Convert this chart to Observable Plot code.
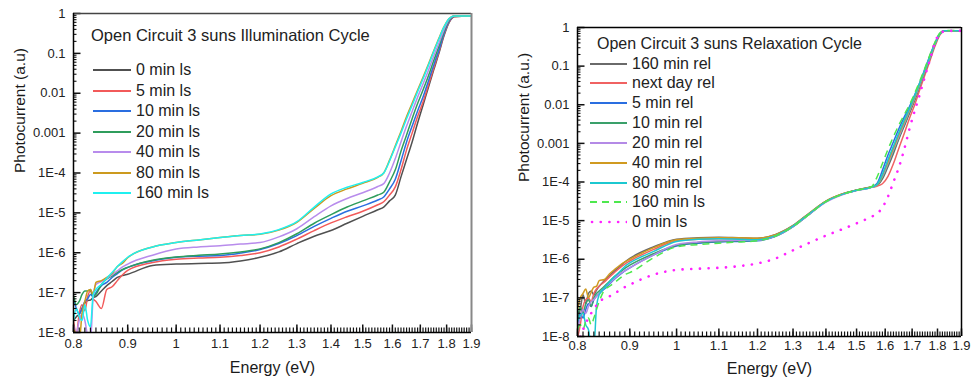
<!DOCTYPE html>
<html><head><meta charset="utf-8">
<script src="https://cdn.jsdelivr.net/npm/d3@7"></script>
<script src="https://cdn.jsdelivr.net/npm/@observablehq/plot@0.6"></script>
<style>
body{margin:0;background:#fff;font-family:"Liberation Sans",Arial,sans-serif;color:#222;}
#wrap{position:relative;width:971px;height:385px;overflow:hidden;background:#fff;}
.panel{position:absolute;top:0;height:385px;}
.panel svg{position:absolute;left:0;top:0;}
.ltitle{position:absolute;white-space:nowrap;line-height:20px;height:20px;}
.lrow{position:absolute;white-space:nowrap;height:20px;line-height:20px;font-size:16px;display:flex;align-items:center;}
.lrow svg{display:block;position:static;}
</style></head>
<body><div id="wrap"></div>
<script>
// ---------- data ----------
const energy = [0.800,0.805,0.810,0.815,0.820,0.825,0.830,0.835,0.840,0.850,0.860,0.870,0.880,0.890,
  0.90,0.95,1.00,1.05,1.10,1.15,1.20,1.25,1.30,1.35,1.40,1.45,1.50,1.55,
  1.57,1.59,1.61,1.63,1.65,1.67,1.69,1.71,1.73,1.75,1.77,1.79,1.81,1.83,1.86,1.90];

// Left panel: illumination cycle
const ill0 = [2e-8,2.5e-8,2.9e-8,4e-8,5.5e-8,6.3e-8,6.5e-8,7.6e-8,8e-8,1.1e-7,1.5e-7,1.9e-7,2.4e-7,2.7e-7,
  2.9e-7,4.8e-7,5.2e-7,5.4e-7,5.5e-7,6.2e-7,7.7e-7,1.05e-6,1.7e-6,2.6e-6,3.6e-6,5.5e-6,8.2e-6,1.2e-5,
  1.4e-5,2e-5,2.8e-5,8e-5,2.2e-4,6e-4,1.8e-3,5e-3,1.4e-2,3.8e-2,0.1,0.28,0.6,0.83,0.85,0.85];
const ill5 = [2e-8,9e-9,3e-8,5e-8,3.5e-8,8e-8,1.1e-7,7e-8,6e-8,4e-8,1.2e-7,1.4e-7,2e-7,2.8e-7,
  3.6e-7,5.7e-7,6.9e-7,7.4e-7,7.7e-7,8.5e-7,1.0e-6,1.4e-6,2.2e-6,3.6e-6,5.6e-6,8e-6,1.1e-5,1.6e-5,
  1.9e-5,2.8e-5,4.5e-5,1.2e-4,3.8e-4,1e-3,2.6e-3,6e-3,1.6e-2,4.2e-2,0.11,0.3,0.62,0.84,0.85,0.85];
const ill10 = [7e-8,4e-8,2.9e-8,4e-8,6e-8,7e-8,9e-8,8e-8,1e-7,1.5e-7,1.8e-7,2.4e-7,3e-7,3.7e-7,
  4.3e-7,6.3e-7,7.7e-7,8.2e-7,8.5e-7,9.8e-7,1.2e-6,1.7e-6,2.7e-6,4.6e-6,7.3e-6,1.1e-5,1.5e-5,2.1e-5,
  2.5e-5,4e-5,7e-5,2e-4,6e-4,1.5e-3,3.6e-3,8e-3,2e-2,5e-2,0.12,0.32,0.64,0.85,0.86,0.86];
const ill20 = [8.5e-8,5e-8,6e-8,9e-8,1.1e-7,1.1e-7,1.2e-7,8e-8,9e-8,1.6e-7,2.2e-7,2.6e-7,3.2e-7,3.8e-7,
  4.3e-7,6.5e-7,7.8e-7,8.6e-7,9.3e-7,1.05e-6,1.25e-6,1.8e-6,3e-6,5.5e-6,9e-6,1.4e-5,2e-5,2.8e-5,
  3.3e-5,6e-5,1.2e-4,3.5e-4,9e-4,2.3e-3,5.5e-3,1.2e-2,2.7e-2,6.5e-2,0.15,0.36,0.68,0.86,0.86,0.86];
const ill40 = [1.5e-8,1e-8,2e-8,3e-8,2e-8,8e-9,6e-9,8e-8,1.6e-7,1.9e-7,2.3e-7,2.8e-7,3.5e-7,4.4e-7,
  5.2e-7,8.7e-7,1.24e-6,1.4e-6,1.5e-6,1.65e-6,1.8e-6,2.5e-6,4e-6,8e-6,1.5e-5,2.3e-5,3.2e-5,4.6e-5,
  5.4e-5,1e-4,2.3e-4,6e-4,1.5e-3,3.5e-3,8e-3,1.7e-2,3.7e-2,8.5e-2,0.18,0.4,0.72,0.86,0.86,0.86];
const ill80 = [1.2e-8,9e-9,6e-9,3e-8,6e-8,1.1e-7,1.2e-7,9e-8,1.8e-7,2e-7,2.4e-7,3e-7,4.5e-7,5.5e-7,
  7.5e-7,1.4e-6,1.8e-6,2.1e-6,2.4e-6,2.7e-6,2.9e-6,3.7e-6,5.8e-6,1.3e-5,2.7e-5,4e-5,5.5e-5,7.8e-5,
  1e-4,2.1e-4,4.8e-4,1.1e-3,2.6e-3,5.6e-3,1.2e-2,2.5e-2,5.3e-2,0.115,0.24,0.47,0.75,0.87,0.87,0.87];
const ill160 = [2e-8,4e-8,2.5e-8,2e-8,5e-8,2e-8,1.4e-8,9e-8,1.2e-7,1.6e-7,2.3e-7,3.2e-7,4.5e-7,6e-7,
  7.7e-7,1.4e-6,1.8e-6,2.1e-6,2.4e-6,2.7e-6,2.95e-6,3.8e-6,6e-6,1.4e-5,3e-5,4.4e-5,5.8e-5,8e-5,
  1e-4,2e-4,4.5e-4,1e-3,2.3e-3,5e-3,1.1e-2,2.3e-2,5e-2,0.11,0.23,0.46,0.75,0.87,0.87,0.87];

// Right panel: relaxation cycle
const rel160 = [3e-8,5e-8,1.2e-7,7e-8,1.3e-7,1.5e-7,1.2e-7,1.6e-7,2e-7,2.8e-7,3.8e-7,5e-7,6.5e-7,8.5e-7,
  1.05e-6,2.1e-6,3.3e-6,3.6e-6,3.7e-6,3.6e-6,3.5e-6,4.4e-6,7.5e-6,1.6e-5,3.2e-5,4.8e-5,6.2e-5,7.4e-5,
  8e-5,1.2e-4,2.5e-4,5.5e-4,1.3e-3,2.8e-3,6e-3,1.3e-2,3e-2,7e-2,0.16,0.38,0.68,0.82,0.83,0.83];
const relNext = [9e-9,2e-8,6e-8,9e-8,1e-7,8e-8,1.3e-7,1.7e-7,2e-7,2.6e-7,3.5e-7,4.6e-7,6e-7,7.5e-7,
  9e-7,1.8e-6,3.0e-6,3.3e-6,3.4e-6,3.4e-6,3.3e-6,4.2e-6,7.2e-6,1.55e-5,3.1e-5,4.7e-5,6.1e-5,7.3e-5,
  7.8e-5,9e-5,1.4e-4,3e-4,7.5e-4,1.8e-3,4.5e-3,1e-2,2.5e-2,6e-2,0.14,0.33,0.65,0.82,0.83,0.83];
const rel5 = [2e-8,4e-8,3e-8,5e-8,7e-8,6e-8,9e-8,1.1e-7,1.3e-7,1.7e-7,2.3e-7,3.1e-7,4e-7,5e-7,
  6e-7,1.3e-6,2.2e-6,2.6e-6,2.8e-6,2.9e-6,3.0e-6,3.9e-6,7e-6,1.5e-5,3.1e-5,4.7e-5,6.1e-5,7.3e-5,
  9e-5,2e-4,5e-4,1.1e-3,2.4e-3,4.8e-3,9e-3,1.8e-2,3.8e-2,8.5e-2,0.19,0.4,0.7,0.83,0.83,0.83];
const rel10 = [3e-8,6e-8,4e-8,7e-8,9e-8,6e-8,1e-7,1.3e-7,1.5e-7,2e-7,2.7e-7,3.6e-7,4.6e-7,5.8e-7,
  7e-7,1.4e-6,2.3e-6,2.7e-6,2.9e-6,3.0e-6,3.1e-6,4e-6,7e-6,1.5e-5,3.1e-5,4.7e-5,6.1e-5,7.3e-5,
  8.2e-5,1.3e-4,2.8e-4,6.2e-4,1.4e-3,3e-3,6.5e-3,1.4e-2,3.2e-2,7.2e-2,0.16,0.37,0.68,0.82,0.83,0.83];
const rel20 = [1.5e-8,3e-8,5e-8,4e-8,6e-8,8e-8,9e-8,1.1e-7,1.3e-7,1.8e-7,2.4e-7,3.2e-7,4.1e-7,5e-7,
  6e-7,1.3e-6,2.4e-6,2.8e-6,3.0e-6,3.1e-6,3.1e-6,4e-6,7e-6,1.5e-5,3e-5,4.6e-5,6e-5,7.2e-5,
  8.2e-5,1.4e-4,3e-4,6.8e-4,1.5e-3,3.3e-3,7e-3,1.5e-2,3.4e-2,7.6e-2,0.17,0.38,0.69,0.82,0.83,0.83];
const rel40 = [5e-8,1e-7,1.3e-7,1.7e-7,1e-7,1.4e-7,1.9e-7,2e-7,2.8e-7,3e-7,4.2e-7,5.5e-7,7e-7,8.5e-7,
  1e-6,2e-6,3.2e-6,3.5e-6,3.6e-6,3.6e-6,3.5e-6,4.3e-6,7.4e-6,1.6e-5,3.2e-5,4.8e-5,6.2e-5,7.4e-5,
  8.3e-5,1.5e-4,3.3e-4,7.5e-4,1.7e-3,3.6e-3,7.5e-3,1.6e-2,3.6e-2,8e-2,0.18,0.39,0.7,0.82,0.83,0.83];
const rel80 = [2.5e-8,3.5e-8,4e-8,2e-8,1.5e-8,6e-9,5e-9,6e-8,1.2e-7,1.8e-7,2.6e-7,3.6e-7,4.8e-7,6.5e-7,
  8e-7,1.6e-6,2.9e-6,3.3e-6,3.4e-6,3.3e-6,3.2e-6,4.1e-6,7.2e-6,1.55e-5,3.1e-5,4.7e-5,6.1e-5,7.3e-5,
  8.5e-5,1.6e-4,3.8e-4,8.5e-4,1.9e-3,4e-3,8e-3,1.7e-2,3.7e-2,8.2e-2,0.18,0.39,0.7,0.83,0.83,0.83];
const ls160 = [1.5e-8,2e-8,1.5e-8,2.5e-8,3e-8,2e-8,3e-8,5e-8,8e-8,1.6e-7,2e-7,2.5e-7,3.2e-7,4e-7,
  4.5e-7,1.1e-6,2.1e-6,2.4e-6,2.6e-6,2.8e-6,3.0e-6,4e-6,7e-6,1.5e-5,3.1e-5,4.7e-5,6.1e-5,7.4e-5,
  1.3e-4,3e-4,7e-4,1.5e-3,3e-3,5.5e-3,1e-2,2e-2,4.2e-2,9e-2,0.2,0.42,0.72,0.83,0.84,0.84];
const ls0 = [6e-9,1e-8,1.5e-8,2.2e-8,3e-8,4e-8,5e-8,6.5e-8,8e-8,9.5e-8,1.1e-7,1.3e-7,1.6e-7,1.9e-7,
  2.2e-7,4e-7,5.3e-7,5.7e-7,6e-7,6.6e-7,7.8e-7,1.05e-6,1.7e-6,2.7e-6,4.1e-6,5.9e-6,8.5e-6,1.25e-5,
  1.5e-5,2.2e-5,4.2e-5,1e-4,2.4e-4,7e-4,2.4e-3,7e-3,1.9e-2,5.5e-2,0.15,0.42,0.7,0.8,0.82,0.82];

const xTicks = [0.8,0.9,1,1.1,1.2,1.3,1.4,1.5,1.6,1.7,1.8,1.9];
const xTickLabels = ["0.8","0.9","1","1.1","1.2","1.3","1.4","1.5","1.6","1.7","1.8","1.9"];
const yTicks = [1,0.1,0.01,0.001,1e-4,1e-5,1e-6,1e-7,1e-8];
const yTickLabels = ["1","0.1","0.01","0.001","1E-4","1E-5","1E-6","1E-7","1E-8"];

const leftNames = ["0 min ls","5 min ls","10 min ls","20 min ls","40 min ls","80 min ls","160 min ls"];
const leftValues = [ill0, ill5, ill10, ill20, ill40, ill80, ill160];
const leftColors = ["#505050","#f25a5a","#2a6ee0","#2f9d5c","#b88cec","#cc9a1e","#1ff0f0"];

const rightNames = ["160 min rel","next day rel","5 min rel","10 min rel","20 min rel","40 min rel","80 min rel","160 min ls","0 min ls"];
const rightValues = [rel160, relNext, rel5, rel10, rel20, rel40, rel80, ls160, ls0];
const rightColors = ["#6a6a6a","#f06262","#2a6ee0","#3aa06a","#b48ae6","#d09a20","#1cc8d0","#4de84d","#ff22ff"];
const rightDash = [null,null,null,null,null,null,null,"7,5","0.1,8.6"];

// ---------- helpers ----------
const X0 = 0.8, X1 = 1.9, Y0 = 1e-8, Y1 = 1;
const xMinor = d3.range(80, 191).map(i => i / 100);
const yMinor = [];
for (let k = -8; k < 0; k++) for (let m = 2; m <= 9; m++) yMinor.push(m * Math.pow(10, k));

const plotStyle = {fontFamily: "'Liberation Sans', Arial, sans-serif", fontSize: "13px", color: "#222", background: "transparent", overflow: "visible"};

function baseOpts(o, marks) {
  return {
    width: o.width, height: o.height,
    marginLeft: o.ml, marginRight: o.mr, marginTop: o.mt, marginBottom: o.mb,
    style: plotStyle,
    x: {type: "log", domain: [X0, X1], axis: null},
    y: {type: "log", domain: [Y0, Y1], axis: null},
    marks
  };
}

// main layer: curves and texts
function panel(o) {
  const marks = [];
  o.values.forEach((vals, s) => {
    const data = energy.map((E, i) => ({E, v: vals[i]}));
    const dash = o.dash ? o.dash[s] : null;
    const dotted = dash && dash.startsWith("0.1");
    marks.push(Plot.line(data, {
      x: "E", y: "v", stroke: o.colors[s], strokeWidth: dotted ? 2.6 : 1.5,
      strokeDasharray: dash, strokeLinecap: dotted ? "round" : "butt",
      curve: "monotone-x", clip: true
    }));
  });
  marks.push(Plot.text(xTicks, {x: d => d, text: (d, i) => xTickLabels[i], frameAnchor: "bottom", dy: o.xLabDy, fontSize: 13, fill: "#222"}));
  marks.push(Plot.text(yTicks, {y: d => d, text: (d, i) => yTickLabels[i], frameAnchor: "left", dx: -8, textAnchor: "end", fontSize: 13, fill: "#222"}));
  marks.push(Plot.text(["Energy (eV)"], {text: d => d, frameAnchor: "bottom", dy: o.xTitleDy, fontSize: 16, fill: "#1a1a1a"}));
  marks.push(Plot.text([o.yTitle], {text: d => d, frameAnchor: "left", rotate: -90, dx: o.yTitleDx, fontSize: 15.5, fill: "#1a1a1a"}));
  return Plot.plot(baseOpts(o, marks));
}

// overlay layer: ticks and frame, same scales
function frameLayer(o) {
  const plotW = o.width - o.ml - o.mr, plotH = o.height - o.mt - o.mb;
  const yUp = px => Y0 * Math.pow(Y1 / Y0, px / plotH);
  const xIn = px => X0 * Math.pow(X1 / X0, px / plotW);
  const marks = [
    Plot.ruleX(xMinor, {x: d => d, y1: Y0, y2: yUp(4.5), stroke: "#111", strokeWidth: 1.2}),
    Plot.ruleX(xTicks, {x: d => d, y1: Y0, y2: yUp(7.5), stroke: "#111", strokeWidth: 1.5}),
    Plot.ruleY(yMinor, {y: d => d, x1: X0, x2: xIn(3.5), stroke: "#111", strokeWidth: 1.1}),
    Plot.ruleY(yTicks, {y: d => d, x1: X0, x2: xIn(7.5), stroke: "#111", strokeWidth: 1.5}),
    Plot.ruleY([Y1], {stroke: o.topStroke, strokeWidth: 1.5}),
    Plot.ruleX([X1], {stroke: o.rightStroke, strokeWidth: o.rightWidth}),
    Plot.ruleX([X0], {stroke: "#000", strokeWidth: 1.5}),
    Plot.ruleY([Y0], {stroke: "#000", strokeWidth: 1.5})
  ];
  return Plot.plot(baseOpts(o, marks));
}

const wrap = document.getElementById("wrap");
function mount(o, left) {
  const d = document.createElement("div");
  d.className = "panel"; d.style.left = left + "px"; d.style.width = o.width + "px";
  d.appendChild(panel(o));
  d.appendChild(frameLayer(o));
  wrap.appendChild(d);
}

mount({width: 480, height: 385, ml: 73, mr: 9, mt: 13, mb: 53,
  values: leftValues, colors: leftColors, dash: null,
  topStroke: "#444", rightStroke: "#888", rightWidth: 2,
  xLabDy: 15, xTitleDy: 40, yTitle: "Photocurrent (a.u)", yTitleDx: -53}, 0);

mount({width: 481, height: 385, ml: 87, mr: 10, mt: 27, mb: 49,
  values: rightValues, colors: rightColors, dash: rightDash,
  topStroke: "#000", rightStroke: "#000", rightWidth: 1.5,
  xLabDy: 13, xTitleDy: 37, yTitle: "Photocurrent (a.u.)", yTitleDx: -53}, 490);

// ---------- legends ----------
function legend(o) {
  const t = document.createElement("div");
  t.className = "ltitle"; t.textContent = o.title;
  t.style.left = o.titleX + "px"; t.style.top = (o.titleY - 10) + "px"; t.style.fontSize = o.titleSize + "px";
  wrap.appendChild(t);
  o.names.forEach((n, i) => {
    const row = document.createElement("div");
    row.className = "lrow";
    row.style.left = o.lineX + "px";
    row.style.top = (o.rowY + i * o.step - 10) + "px";
    const w = o.lineW;
    const dash = o.dash ? o.dash[i] : null;
    const dotted = dash && dash.startsWith("0.1");
    row.innerHTML = `<svg width="${w}" height="20"><line x1="${dotted ? 2 : 0}" x2="${w}" y1="10" y2="10" stroke="${o.colors[i]}" stroke-width="${dotted ? 2.6 : 2}" ${dash ? `stroke-dasharray="${dash}"` : ""} stroke-linecap="${dotted ? "round" : "butt"}"/></svg><span style="margin-left:${o.gap}px">${n}</span>`;
    wrap.appendChild(row);
  });
}
legend({title: "Open Circuit 3 suns Illumination Cycle", titleX: 91, titleY: 35, titleSize: 16.5,
  names: leftNames, colors: leftColors, dash: null, lineX: 93, lineW: 38, gap: 5, rowY: 70, step: 20.55});
legend({title: "Open Circuit 3 suns Relaxation Cycle", titleX: 597, titleY: 43.5, titleSize: 16,
  names: rightNames, colors: rightColors, dash: rightDash, lineX: 590, lineW: 37, gap: 5, rowY: 63.5, step: 19.85});
</script>
</body></html>
